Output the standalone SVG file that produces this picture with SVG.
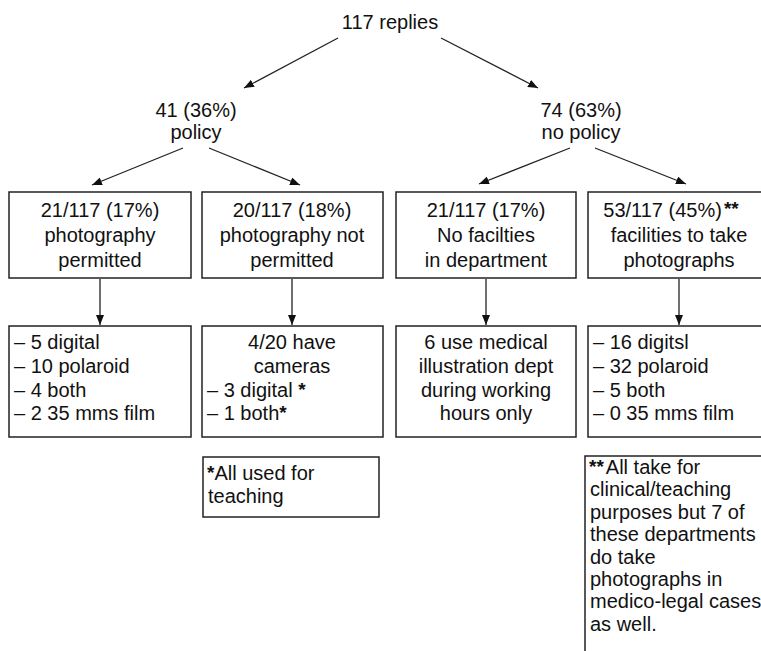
<svg xmlns="http://www.w3.org/2000/svg" width="761" height="651" viewBox="0 0 761 651">
<defs>
<marker id="ah" viewBox="0 0 10 8" refX="10" refY="4" markerWidth="10" markerHeight="8" markerUnits="userSpaceOnUse" orient="auto">
<path d="M0,0 L10,4 L0,8 Z" fill="#111"/>
</marker>
<style>
text{font-family:"Liberation Sans",Arial,sans-serif;font-size:20px;fill:#111}
.c{text-anchor:middle}
.box{fill:#fff;stroke:#222;stroke-width:1.5}
.ln{stroke:#222;stroke-width:1.3;fill:none;marker-end:url(#ah)}
.st{font-size:19px;font-weight:bold}
</style>
</defs>
<rect width="761" height="651" fill="#fff"/>
<g id="connectors">
<line class="ln" x1="338" y1="38" x2="244" y2="88"/>
<line class="ln" x1="441" y1="38" x2="538" y2="88"/>
<line class="ln" x1="183" y1="148" x2="92" y2="185"/>
<line class="ln" x1="209" y1="148" x2="300" y2="185"/>
<line class="ln" x1="570" y1="148" x2="479" y2="184"/>
<line class="ln" x1="595" y1="148" x2="686" y2="184"/>
<line class="ln" x1="100" y1="279" x2="100" y2="325"/>
<line class="ln" x1="292" y1="279" x2="292" y2="325"/>
<line class="ln" x1="486" y1="279" x2="486" y2="325"/>
<line class="ln" x1="679" y1="279" x2="679" y2="325"/>
</g>
<g id="root">
<text class="c" x="390" y="29">117 replies</text>
</g>
<g id="policy">
<text class="c" x="196" y="117">41 (36%)</text>
<text class="c" x="196" y="139">policy</text>
</g>
<g id="nopolicy">
<text class="c" x="581" y="117">74 (63%)</text>
<text class="c" x="581" y="139">no policy</text>
</g>
<g id="permitted">
<rect class="box" x="9" y="192" width="182" height="86"/>
<text class="c" x="100" y="217">21/117 (17%)</text>
<text class="c" x="100" y="242">photography</text>
<text class="c" x="100" y="267">permitted</text>
</g>
<g id="notpermitted">
<rect class="box" x="202" y="192" width="181" height="86"/>
<text class="c" x="292" y="217">20/117 (18%)</text>
<text class="c" x="292" y="242">photography not</text>
<text class="c" x="292" y="267">permitted</text>
</g>
<g id="nofacilities">
<rect class="box" x="396" y="192" width="180" height="86"/>
<text class="c" x="486" y="217">21/117 (17%)</text>
<text class="c" x="486" y="242">No facilties</text>
<text class="c" x="486" y="267">in department</text>
</g>
<g id="facilities">
<rect class="box" x="588" y="192" width="182" height="86"/>
<text class="c" x="671" y="217">53/117 (45%)<tspan class="st" dx="2" dy="-2">**</tspan></text>
<text class="c" x="679" y="242">facilities to take</text>
<text class="c" x="679" y="267">photographs</text>
</g>
<g id="permitted-detail">
<rect class="box" x="9" y="326" width="182" height="111"/>
<text x="14" y="349">– 5 digital</text>
<text x="14" y="373">– 10 polaroid</text>
<text x="14" y="397">– 4 both</text>
<text x="14" y="420">– 2 35 mms film</text>
</g>
<g id="notpermitted-detail">
<rect class="box" x="202" y="326" width="181" height="111"/>
<text class="c" x="292" y="349">4/20 have</text>
<text class="c" x="292" y="373">cameras</text>
<text x="207" y="397">– 3 digital <tspan class="st" dy="-1">*</tspan></text>
<text x="207" y="420">– 1 both<tspan class="st" dy="-1">*</tspan></text>
</g>
<g id="nofacilities-detail">
<rect class="box" x="396" y="326" width="180" height="111"/>
<text class="c" x="486" y="349">6 use medical</text>
<text class="c" x="486" y="373">illustration dept</text>
<text class="c" x="486" y="397">during working</text>
<text class="c" x="486" y="420">hours only</text>
</g>
<g id="facilities-detail">
<rect class="box" x="588" y="326" width="182" height="111"/>
<text x="593" y="349">– 16 digitsl</text>
<text x="593" y="373">– 32 polaroid</text>
<text x="593" y="397">– 5 both</text>
<text x="593" y="420">– 0 35 mms film</text>
</g>
<g id="note1">
<rect class="box" x="203" y="457" width="176" height="60"/>
<text x="207" y="480"><tspan class="st" dy="-1">*</tspan><tspan dy="1">All used for</tspan></text>
<text x="208" y="503">teaching</text>
</g>
<g id="note2">
<rect class="box" x="585" y="456" width="190" height="210"/>
<text x="589" y="474"><tspan class="st" dy="-1">**</tspan><tspan dx="2" dy="1">All take for</tspan></text>
<text x="590" y="496">clinical/teaching</text>
<text x="590" y="519">purposes but 7 of</text>
<text x="590" y="541">these departments</text>
<text x="590" y="564">do take</text>
<text x="590" y="586">photographs in</text>
<text x="590" y="608">medico-legal cases</text>
<text x="590" y="631">as well.</text>
</g>
</svg>
